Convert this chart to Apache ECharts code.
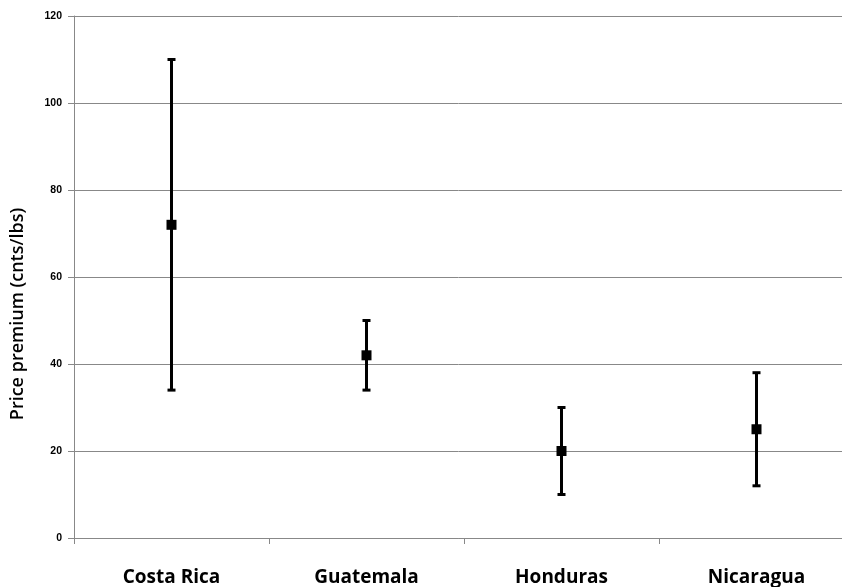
<!DOCTYPE html>
<html><head><meta charset="utf-8">
<script src="https://cdn.jsdelivr.net/npm/echarts@6/dist/echarts.min.js"></script>
<style>html,body{margin:0;padding:0;background:#fff}#c{width:842px;height:587px}</style>
</head><body><div id="c"></div>
<script>
const categories = ['Costa Rica', 'Guatemala', 'Honduras', 'Nicaragua'];
const meanValues = [72, 42, 20, 25];
const lowValues = [34, 34, 10, 12];
const highValues = [110, 50, 30, 38];
const yTicks = [0, 20, 40, 60, 80, 100, 120];
const yTitle = 'Price premium (cnts/lbs)';

const chart = echarts.init(document.getElementById('c'));
const errData = categories.map((c, i) => [i, lowValues[i], highValues[i]]);
chart.setOption({
  animation: false,
  grid: { left: 74, right: -12, top: 16, bottom: 49, outerBoundsMode: 'none', containLabel: false },
  graphic: [{
    type: 'text', x: 18, y: 314, rotation: Math.PI / 2,
    style: { text: yTitle, fontFamily: 'Open Sans', fontSize: 18, fontWeight: 600, fill: '#000',
      textAlign: 'center', textVerticalAlign: 'middle' }
  }],
  xAxis: {
    type: 'category', data: categories, boundaryGap: true,
    axisLine: { lineStyle: { color: '#888', width: 1 } },
    axisTick: { show: true, alignWithLabel: false, length: 6, lineStyle: { color: '#888' } },
    axisLabel: { margin: 30, fontFamily: 'Open Sans', fontWeight: 'bold', fontSize: 19, color: '#000' }
  },
  yAxis: {
    type: 'value', min: 0, max: 120, interval: 20,
    axisLine: { show: true, lineStyle: { color: '#888' } },
    axisTick: { show: true, length: 6, lineStyle: { color: '#888' } },
    splitLine: { lineStyle: { color: '#888', width: 1 } },
    axisLabel: { margin: 12, fontFamily: 'Liberation Sans', fontWeight: 'bold', fontSize: 10.5, color: '#000',
      formatter: v => yTicks.includes(v) ? String(v) : '' }
  },
  series: [
    {
      type: 'custom',
      data: errData,
      renderItem: function (params, api) {
        const x = api.value(0);
        const lo = api.coord([x, api.value(1)]);
        const hi = api.coord([x, api.value(2)]);
        const hw = 4;
        const st = { stroke: '#000', lineWidth: 3 };
        return {
          type: 'group', children: [
            { type: 'line', shape: { x1: lo[0], y1: lo[1], x2: hi[0], y2: hi[1] }, style: st },
            { type: 'line', shape: { x1: lo[0] - hw, y1: lo[1], x2: lo[0] + hw, y2: lo[1] }, style: st },
            { type: 'line', shape: { x1: hi[0] - hw, y1: hi[1], x2: hi[0] + hw, y2: hi[1] }, style: st }
          ]
        };
      },
      z: 2
    },
    {
      type: 'scatter', data: meanValues, symbol: 'rect', symbolSize: 10,
      itemStyle: { color: '#000', opacity: 1 }, z: 3
    }
  ]
});
</script></body></html>
